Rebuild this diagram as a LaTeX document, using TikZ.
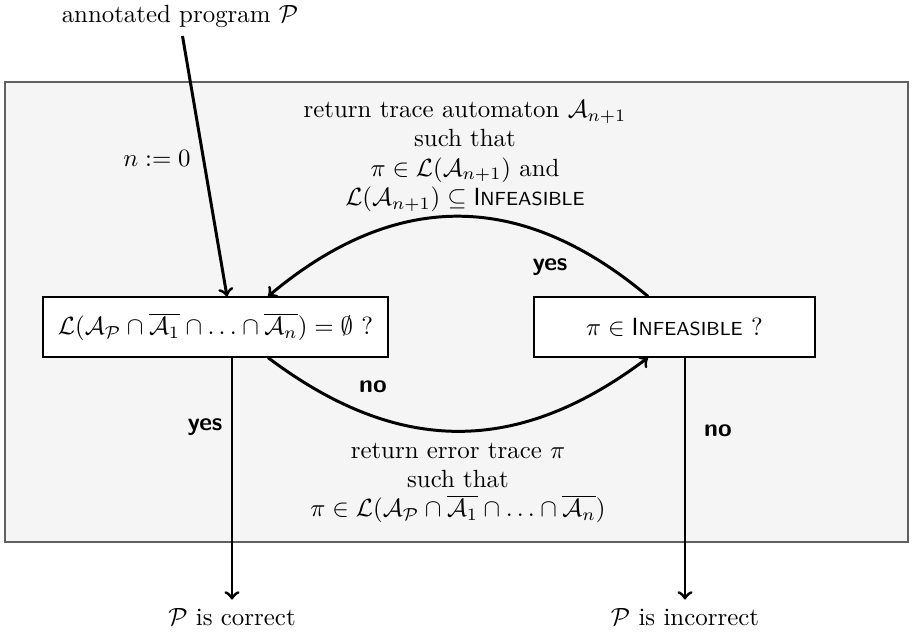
\documentclass[tikz,border=0pt]{standalone}
\usetikzlibrary{calc}
% sans small-caps style name of the set of infeasible traces
\newcommand{\Infeas}{\textsf{I\fontsize{7.6}{8}\selectfont NFEASIBLE}}
\begin{document}
\begin{tikzpicture}[x=0.402pt,y=0.402pt,
  every node/.style={font=\fontsize{10}{11.8}\selectfont},
  test/.style={draw=black, line width=0.5pt, fill=white, minimum height=24.1pt, inner sep=0pt},
  lbl/.style={font=\sffamily\bfseries\fontsize{10}{11}\selectfont},
  flow/.style={->, line width=1.2pt}]
\useasboundingbox (0,0) rectangle (913,-634);
% shaded loop area
\draw[draw=gray!75!black, line width=0.7pt, fill=gray!8] (5,-82) rectangle (908,-542);

\node (src) at (180,-16) {annotated program $\mathcal{P}$};
\node (init) at (157,-158) {$n := 0$};
\node[test, minimum width=138.7pt] (emp) at (215.5,-327)
  {$\mathcal{L}(\mathcal{A}_{\mathcal{P}} \cap \overline{\mathcal{A}_1} \cap \ldots \cap \overline{\mathcal{A}_n}) = \emptyset$ ?};
\node[test, minimum width=113pt] (feas) at (674.5,-327) {$\pi \in \Infeas$ ?};

\node[align=center] (ret) at (465,-156)
  {return trace automaton $\mathcal{A}_{n+1}$\\ such that\\
   $\pi\in\mathcal{L}(\mathcal{A}_{n+1})$ and\\
   $\mathcal{L}(\mathcal{A}_{n+1})\subseteq\Infeas$};
\node[align=center] (err) at (458,-483)
  {return error trace $\pi$\\ such that\\
   $\pi\in\mathcal{L}(\mathcal{A}_{\mathcal{P}} \cap \overline{\mathcal{A}_1} \cap \ldots \cap \overline{\mathcal{A}_n})$};

\node[lbl] (yes1) at (550,-267) {yes};
\node[lbl] (no1) at (373,-387) {no};
\node[lbl] (yes2) at (205,-427) {yes};
\node[lbl] (no2) at (718,-431) {no};

\node (ok) at (232,-617) {$\mathcal{P}$ is correct};
\node (bad) at (685,-617) {$\mathcal{P}$ is incorrect};

% connectors
\draw[flow] ([xshift=1pt]src.south) -- ($(emp.north)+(11.5,0)$);
\draw[flow] ($(feas.north)+(-26.5,0)$) to[out=140,in=40,looseness=1.12] ($(emp.north)+(52.5,0)$);
\draw[flow] ($(emp.south)+(52.5,0)$) to[out=-37,in=-143,looseness=1.1] ($(feas.south)+(-26.5,0)$);
\draw[flow] (emp.south -| ok.north) -- (ok.north);
\draw[flow] (feas.south -| bad.north) -- (bad.north);
\end{tikzpicture}
\end{document}
